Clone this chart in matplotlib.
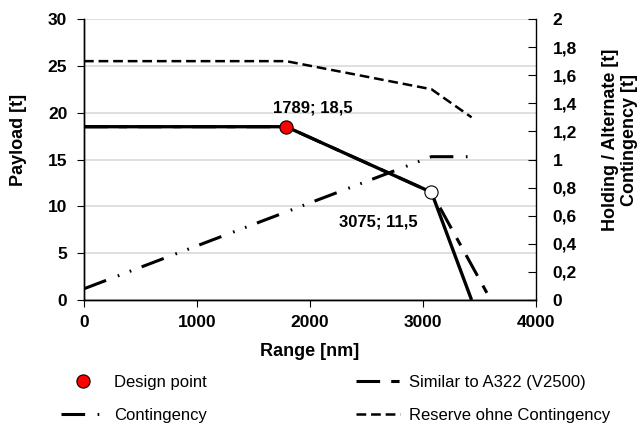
import matplotlib
matplotlib.use('Agg')
import matplotlib.pyplot as plt
import numpy as np

plt.rcParams['font.family'] = ['Liberation Sans', 'DejaVu Sans']
plt.rcParams['lines.scale_dashes'] = False

# payload-range (left axis, t)
range_main = [0, 1789, 3075, 3430]
payload_main = [18.5, 18.5, 11.5, 0]
range_a322 = [0, 1789, 3075, 3600]
payload_a322 = [18.5, 18.5, 11.5, 0]
design_pt = (1789, 18.5)
corner_pt = (3075, 11.5)

# reserves (right axis, t)
range_cont = [0, 3075, 3430]
cont = [0.08, 1.02, 1.02]
range_res = [0, 1789, 3075, 3430]
res = [1.7, 1.7, 1.5, 1.3]

xticks = [0, 1000, 2000, 3000, 4000]
yticks_l = [0, 5, 10, 15, 20, 25, 30]
yticks_r = [0, 0.2, 0.4, 0.6, 0.8, 1.0, 1.2, 1.4, 1.6, 1.8, 2.0]
yticklabels_r = ['0', '0,2', '0,4', '0,6', '0,8', '1', '1,2', '1,4', '1,6', '1,8', '2']

fig = plt.figure(figsize=(6.38, 4.28), dpi=100)
ax = fig.add_axes([84/638, 128/428, 452/638, 281/428])
ax2 = ax.twinx()

ax.yaxis.grid(True, color='#d9d9d9', linewidth=1.2)
ax.set_axisbelow(True)

l_a322, = ax.plot(range_a322, payload_a322, color='black', lw=2.2,
                  dashes=(17, 8, 6, 8), label='Similar to A322 (V2500)')
ax.plot(range_main, payload_main, color='black', lw=2.4, solid_capstyle='butt')
l_dp, = ax.plot([design_pt[0]], [design_pt[1]], 'o', ms=9.5, mfc='#ff0000',
                mec='black', mew=0.8, label='Design point', zorder=5)
ax.plot([corner_pt[0]], [corner_pt[1]], 'o', ms=9.5, mfc='white',
        mec='black', mew=0.8, zorder=5)

l_cont, = ax2.plot(range_cont, cont, color='black', lw=2.2,
                   dashes=(17, 9, 1.2, 8, 1.2, 8), label='Contingency')
l_res, = ax2.plot(range_res, res, color='black', lw=1.8,
                  dashes=(7, 3.5), label='Reserve ohne Contingency')

ax.text(2026, 20.0, '1789; 18,5', ha='center', va='baseline',
        fontsize=12, fontweight='bold')
ax.text(2602, 7.8, '3075; 11,5', ha='center', va='baseline',
        fontsize=12, fontweight='bold')

ax.set_xlim(0, 4000)
ax.set_ylim(0, 30)
ax2.set_ylim(0, 2)
ax.set_xticks(xticks)
ax.set_yticks(yticks_l)
ax2.set_yticks(yticks_r)
ax2.set_yticklabels(yticklabels_r)

for a in (ax, ax2):
    a.spines['top'].set_visible(False)
    for s in a.spines.values():
        s.set_linewidth(1.0)
ax.spines['right'].set_visible(False)

ax.tick_params(axis='both', direction='out', length=5, width=0.8,
               labelsize=12.5, pad=6)
ax.tick_params(axis='y', pad=7)
ax2.tick_params(axis='y', direction='in', length=6, width=0.8,
                labelsize=12.5, pad=12)
for lab in ax.get_xticklabels() + ax.get_yticklabels() + ax2.get_yticklabels():
    lab.set_fontweight('bold')

ax.set_xlabel('Range [nm]', fontsize=13, fontweight='bold', labelpad=9)
ax.set_ylabel('Payload [t]', fontsize=13, fontweight='bold')
ax.yaxis.set_label_coords(-0.126, 0.57)
ax2.set_ylabel('Holding / Alternate [t]\nContingency [t]', fontsize=13,
               fontweight='bold', linespacing=1.12)
ax2.yaxis.set_label_coords(1.146, 0.57)

fig.legend(handles=[l_dp, l_cont, l_a322, l_res], ncol=2, loc='center',
           bbox_to_anchor=(0.526, 0.068), frameon=False, fontsize=12,
           handlelength=2.65, handletextpad=0.55, columnspacing=8.9,
           labelspacing=1.1, borderpad=0, numpoints=1)

fig.savefig('out.png', dpi=100)
